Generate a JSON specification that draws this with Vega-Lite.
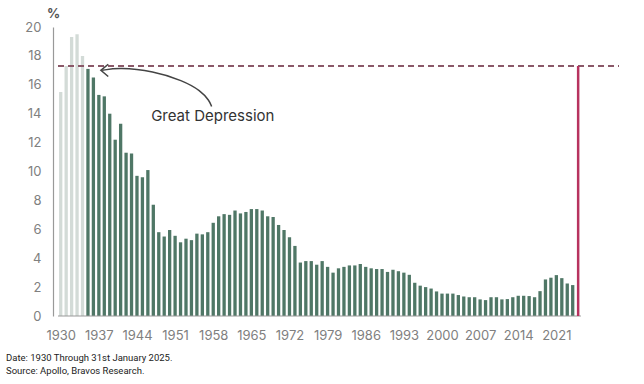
{
  "$schema": "https://vega.github.io/schema/vega-lite/v6.json",
  "width": 571,
  "height": 289,
  "autosize": "none",
  "padding": {"left": 53, "top": 27, "right": 20, "bottom": 68},
  "background": "white",
  "config": {
    "font": "Inter",
    "view": {"stroke": null}
  },
  "title": {
    "text": ["Date: 1930 Through 31st January 2025.", "Source: Apollo, Bravos Research."],
    "orient": "bottom",
    "anchor": "start",
    "frame": "group",
    "dx": -47,
    "offset": 11,
    "fontSize": 9.5,
    "fontWeight": "normal",
    "color": "#222222",
    "lineHeight": 13,
    "font": "Roboto"
  },
  "datasets": {
    "bars": [
      {"year": 1930, "value": 15.5}, {"year": 1931, "value": 17.3}, {"year": 1932, "value": 19.3},
      {"year": 1933, "value": 19.5}, {"year": 1934, "value": 18.0}, {"year": 1935, "value": 17.1},
      {"year": 1936, "value": 16.5}, {"year": 1937, "value": 15.3}, {"year": 1938, "value": 15.2},
      {"year": 1939, "value": 14.0}, {"year": 1940, "value": 12.2}, {"year": 1941, "value": 13.3},
      {"year": 1942, "value": 11.3}, {"year": 1943, "value": 11.25}, {"year": 1944, "value": 9.7},
      {"year": 1945, "value": 9.6}, {"year": 1946, "value": 10.1}, {"year": 1947, "value": 7.7},
      {"year": 1948, "value": 5.8}, {"year": 1949, "value": 5.5}, {"year": 1950, "value": 5.95},
      {"year": 1951, "value": 5.55}, {"year": 1952, "value": 5.1}, {"year": 1953, "value": 5.35},
      {"year": 1954, "value": 5.25}, {"year": 1955, "value": 5.7}, {"year": 1956, "value": 5.65},
      {"year": 1957, "value": 5.8}, {"year": 1958, "value": 6.45}, {"year": 1959, "value": 6.9},
      {"year": 1960, "value": 7.05}, {"year": 1961, "value": 7.0}, {"year": 1962, "value": 7.3},
      {"year": 1963, "value": 7.1}, {"year": 1964, "value": 7.2}, {"year": 1965, "value": 7.4},
      {"year": 1966, "value": 7.4}, {"year": 1967, "value": 7.3}, {"year": 1968, "value": 6.9},
      {"year": 1969, "value": 6.85}, {"year": 1970, "value": 6.3}, {"year": 1971, "value": 5.95},
      {"year": 1972, "value": 5.45}, {"year": 1973, "value": 4.85}, {"year": 1974, "value": 3.7},
      {"year": 1975, "value": 3.8}, {"year": 1976, "value": 3.8}, {"year": 1977, "value": 3.55},
      {"year": 1978, "value": 3.8}, {"year": 1979, "value": 3.4}, {"year": 1980, "value": 3.0},
      {"year": 1981, "value": 3.3}, {"year": 1982, "value": 3.4}, {"year": 1983, "value": 3.5},
      {"year": 1984, "value": 3.5}, {"year": 1985, "value": 3.6}, {"year": 1986, "value": 3.4},
      {"year": 1987, "value": 3.3}, {"year": 1988, "value": 3.25}, {"year": 1989, "value": 3.25},
      {"year": 1990, "value": 3.05}, {"year": 1991, "value": 3.2}, {"year": 1992, "value": 3.1},
      {"year": 1993, "value": 3.0}, {"year": 1994, "value": 2.85}, {"year": 1995, "value": 2.3},
      {"year": 1996, "value": 2.1}, {"year": 1997, "value": 2.0}, {"year": 1998, "value": 1.9},
      {"year": 1999, "value": 1.7}, {"year": 2000, "value": 1.55}, {"year": 2001, "value": 1.55},
      {"year": 2002, "value": 1.55}, {"year": 2003, "value": 1.45}, {"year": 2004, "value": 1.35},
      {"year": 2005, "value": 1.3}, {"year": 2006, "value": 1.3}, {"year": 2007, "value": 1.15},
      {"year": 2008, "value": 1.1}, {"year": 2009, "value": 1.3}, {"year": 2010, "value": 1.3},
      {"year": 2011, "value": 1.15}, {"year": 2012, "value": 1.17}, {"year": 2013, "value": 1.3},
      {"year": 2014, "value": 1.4}, {"year": 2015, "value": 1.4}, {"year": 2016, "value": 1.38},
      {"year": 2017, "value": 1.3}, {"year": 2018, "value": 1.72}, {"year": 2019, "value": 2.53},
      {"year": 2020, "value": 2.65}, {"year": 2021, "value": 2.83}, {"year": 2022, "value": 2.62},
      {"year": 2023, "value": 2.25}, {"year": 2024, "value": 2.14}
    ],
    "arrow": [
      {"year": 1937.6, "value": 17.0, "order": 1},
      {"year": 1940.7, "value": 17.2, "order": 2},
      {"year": 1947.0, "value": 16.95, "order": 3},
      {"year": 1952.4, "value": 16.3, "order": 4},
      {"year": 1955.7, "value": 15.6, "order": 5},
      {"year": 1957.3, "value": 14.9, "order": 6},
      {"year": 1957.7, "value": 14.5, "order": 7}
    ]
  },
  "encoding": {
    "x": {
      "field": "year",
      "type": "quantitative",
      "scale": {"domain": [1929.5, 2032.5], "nice": false, "zero": false},
      "axis": {
        "values": [1930, 1937, 1944, 1951, 1958, 1965, 1972, 1979, 1986, 1993, 2000, 2007, 2014, 2021],
        "format": "d",
        "title": null,
        "grid": false,
        "ticks": false,
        "domain": false,
        "labelPadding": 13,
        "labelFontSize": 13,
        "labelColor": "#808080",
        "labelDx": -3,
        "labelFlush": false,
        "labelOverlap": false
      }
    },
    "y": {
      "field": "value",
      "type": "quantitative",
      "scale": {"domain": [0, 20], "nice": false},
      "axis": {
        "values": [0, 2, 4, 6, 8, 10, 12, 14, 16, 18, 20],
        "title": "%",
        "titleAngle": 0,
        "titleX": 0,
        "titleY": -14,
        "titleAlign": "center",
        "titleBaseline": "middle",
        "titleFontSize": 13,
        "titleFontWeight": "bold",
        "titleColor": "#555555",
        "grid": false,
        "ticks": false,
        "domainColor": "#999999",
        "domainWidth": 1.2,
        "labelPadding": 12,
        "labelFontSize": 13,
        "labelColor": "#808080",
        "labelOverlap": false,
        "labelFlush": false
      }
    }
  },
  "layer": [
    {
      "data": {"name": "bars"},
      "mark": {"type": "bar", "width": 3.3},
      "encoding": {
        "color": {
          "condition": {"test": "datum.year < 1935", "value": "#d3dbd7"},
          "value": "#4f7766"
        }
      }
    },
    {
      "data": {"values": [{"year": 1929.5, "year2": 2025.5, "value": 0}]},
      "mark": {"type": "rule", "color": "#999999", "strokeWidth": 1.2},
      "encoding": {
        "x2": {"field": "year2"}
      }
    },
    {
      "data": {"values": [{"year": 1929.5, "year2": 2032.5, "value": 17.3}]},
      "mark": {"type": "rule", "color": "#8a5868", "strokeWidth": 2, "strokeDash": [6, 4]},
      "encoding": {
        "x2": {"field": "year2"}
      }
    },
    {
      "data": {"values": [{"year": 2025, "value": 0, "value2": 17.3}]},
      "mark": {"type": "rule", "color": "#b7335f", "strokeWidth": 2.5},
      "encoding": {
        "y2": {"field": "value2"}
      }
    },
    {
      "data": {"name": "arrow"},
      "mark": {"type": "line", "interpolate": "basis", "color": "#444444", "strokeWidth": 1.5},
      "encoding": {
        "order": {"field": "order"}
      }
    },
    {
      "data": {"values": [{"year": 1937.6, "value": 17.0}]},
      "mark": {"type": "point", "shape": "M1,-1L-0.2,0L1,1", "size": 150, "filled": false, "stroke": "#444444", "strokeWidth": 1.5, "opacity": 1},
      "encoding": {}
    },
    {
      "data": {"values": [{"year": 1946.6, "value": 13.83, "label": "Great Depression"}]},
      "mark": {"type": "text", "align": "left", "baseline": "middle", "fontSize": 15, "color": "#333333", "font": "Inter"},
      "encoding": {
        "text": {"field": "label"}
      }
    }
  ]
}
